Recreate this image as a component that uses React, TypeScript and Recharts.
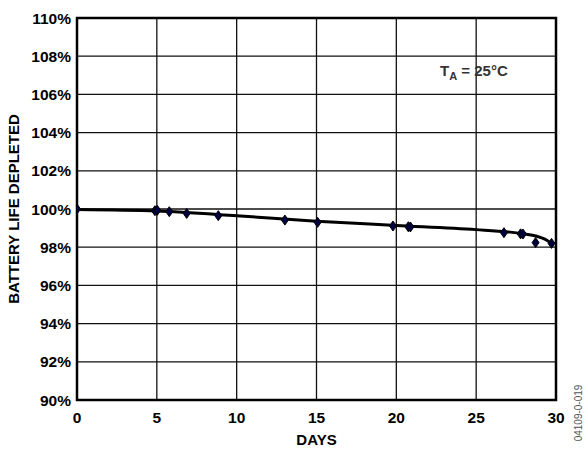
import {
  ComposedChart,
  Line,
  Scatter,
  XAxis,
  YAxis,
  CartesianGrid,
  ReferenceArea,
} from 'recharts'

// measured points (diamonds)
const pointDays = [0, 4.88, 5.03, 5.78, 6.87, 8.85, 13.02, 15.07, 19.79, 20.75, 20.88, 26.74, 27.78, 27.93, 28.72, 29.72]
const pointLife = [100.0, 99.91, 99.93, 99.86, 99.77, 99.65, 99.42, 99.3, 99.11, 99.07, 99.06, 98.76, 98.7, 98.69, 98.24, 98.2]

// fitted trend curve
const trendDays = [0, 5, 10, 15, 20, 25, 27, 28, 28.8, 29.3, 29.72]
const trendLife = [99.98, 99.9, 99.65, 99.36, 99.14, 98.92, 98.8, 98.7, 98.57, 98.42, 98.2]

const xTicks = [0, 5, 10, 15, 20, 25, 30]
const yTicks = [90, 92, 94, 96, 98, 100, 102, 104, 106, 108, 110]

const points = pointDays.map((d, i) => ({ day: d, life: pointLife[i] }))
const trend = trendDays.map((d, i) => ({ day: d, life: trendLife[i] }))

const font = '"Liberation Sans", Arial, sans-serif'

const Diamond = (props: any) => {
  const { cx, cy } = props
  if (cx == null || cy == null) return null
  return (
    <path
      d={`M${cx},${cy - 5} L${cx + 3.5},${cy} L${cx},${cy + 5} L${cx - 3.5},${cy} Z`}
      fill="#000040"
      stroke="#000"
      strokeWidth={1}
    />
  )
}

export default function App() {
  return (
    <div style={{ position: 'absolute', left: 0, top: 0, width: 588, height: 450, background: '#fff', fontFamily: font }}>
      <ComposedChart width={588} height={450} margin={{ top: 18, right: 32, bottom: 0, left: 0 }}>
        <CartesianGrid stroke="#111" strokeWidth={1.3} horizontalValues={yTicks} verticalValues={xTicks} />
        <XAxis
          dataKey="day"
          type="number"
          domain={[0, 30]}
          ticks={xTicks}
          allowDataOverflow
          height={50}
          tickLine={false}
          axisLine={false}
          tickSize={10}
          tick={{ fill: '#000', fontSize: 15.5, fontWeight: 700, fontFamily: font }}
          label={{ value: 'DAYS', position: 'insideBottom', offset: 5, fill: '#000', fontSize: 15, fontWeight: 700, fontFamily: font }}
        />
        <YAxis
          dataKey="life"
          type="number"
          domain={[90, 110]}
          ticks={yTicks}
          allowDataOverflow
          width={77}
          tickLine={false}
          axisLine={false}
          tickSize={4}
          tickFormatter={(v: number) => `${v}%`}
          tick={{ fill: '#000', fontSize: 15.5, fontWeight: 700, fontFamily: font }}
          label={{ value: 'BATTERY LIFE DEPLETED', angle: -90, position: 'insideLeft', offset: 14, fill: '#000', fontSize: 15, fontWeight: 700, fontFamily: font, style: { textAnchor: 'middle' } }}
        />
        <ReferenceArea x1={0} x2={30} y1={90} y2={110} fill="none" stroke="#000" strokeWidth={2.5} ifOverflow="visible" />
        <Line
          data={trend}
          dataKey="life"
          type="monotone"
          stroke="#000"
          strokeWidth={3}
          dot={false}
          activeDot={false}
          isAnimationActive={false}
        />
        <Scatter data={points} dataKey="life" shape={Diamond} isAnimationActive={false} />
      </ComposedChart>
      <div style={{ position: 'absolute', left: 440, top: 62, fontSize: 15, fontWeight: 700, color: '#333', whiteSpace: 'nowrap' }}>
        T<sub style={{ fontSize: 11, verticalAlign: -4 }}>A</sub> = 25°C
      </div>
      <div
        style={{
          position: 'absolute',
          left: 578,
          top: 413,
          fontSize: 10,
          color: '#555',
          whiteSpace: 'nowrap',
          transform: 'translate(-50%, -50%) rotate(-90deg)',
        }}
      >
        04109-0-019
      </div>
    </div>
  )
}
